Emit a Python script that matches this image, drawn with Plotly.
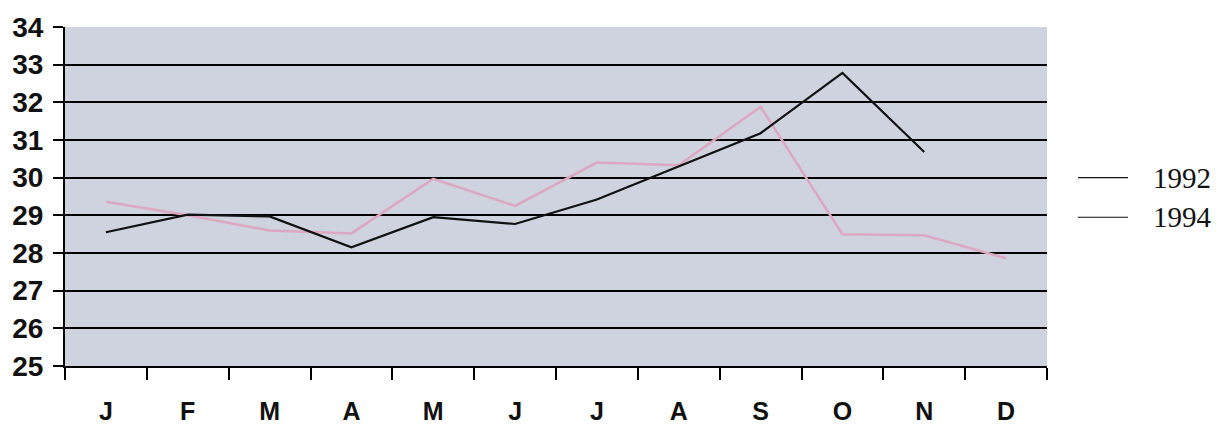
import plotly.graph_objects as go

months = ["Jan", "Feb", "Mar", "Apr", "May", "Jun", "Jul", "Aug", "Sep", "Oct", "Nov", "Dec"]
month_labels = ["J", "F", "M", "A", "M", "J", "J", "A", "S", "O", "N", "D"]
y1992 = [28.55, 29.02, 28.97, 28.15, 28.95, 28.77, 29.42, 30.3, 31.18, 32.78, 30.68, None]
y1994 = [29.36, 29.0, 28.6, 28.52, 29.97, 29.25, 30.4, 30.33, 31.88, 28.5, 28.47, 27.86]
y_ticks = [25, 26, 27, 28, 29, 30, 31, 32, 33, 34]
legend_names = ["1992", "1994"]

fig = go.Figure()
fig.add_trace(go.Scatter(x=months, y=y1994, mode="lines", name="1994",
                         line=dict(color="#dca7c0", width=2.5), showlegend=False))
fig.add_trace(go.Scatter(x=months, y=y1992, mode="lines", name="1992",
                         line=dict(color="#111111", width=2.2), showlegend=False, connectgaps=False))

# legend drawn like the reference: thin black line + serif label
W, H = 1220, 437
ml, mr, mt, mb = 65, 173, 22, 64
pw, ph = W - ml - mr, H - mt - mb
legend_rows_px = [178, 219]
for name, ypx in zip(legend_names, legend_rows_px):
    yp = (H - mb - ypx) / ph
    x0 = (1078 - ml) / pw
    x1 = (1128 - ml) / pw
    fig.add_shape(type="line", xref="paper", yref="paper", x0=x0, x1=x1, y0=yp, y1=yp,
                  line=dict(color="#111111", width=1.2))
    fig.add_annotation(xref="paper", yref="paper", x=(1151 - ml) / pw, y=yp, text=name,
                       showarrow=False, xanchor="left", yanchor="middle",
                       font=dict(family="Liberation Serif, Times New Roman", size=29, color="#111111"))

fig.update_layout(
    width=W, height=H,
    margin=dict(l=ml, r=mr, t=mt, b=mb),
    paper_bgcolor="white",
    plot_bgcolor="#cfd2df",
    font=dict(family="Liberation Sans, Arial", color="#111111"),
    showlegend=False,
)
fig.update_xaxes(
    type="category", categoryorder="array", categoryarray=months,
    tickvals=months, ticktext=month_labels, tickson="boundaries",
    ticks="outside", ticklen=12, tickwidth=2, tickcolor="black",
    showline=True, linecolor="black", linewidth=2, showgrid=False,
    tickfont=dict(size=25, family="Liberation Sans, Arial", weight="bold"),
    ticklabelstandoff=22,
    range=[-0.5, 11.5],
)
fig.update_yaxes(
    range=[25, 34], tickvals=y_ticks,
    ticks="outside", ticklen=10, tickwidth=2, tickcolor="black",
    showline=True, linecolor="black", linewidth=2,
    showgrid=True, gridcolor="black", gridwidth=2, zeroline=False,
    tickfont=dict(size=28, family="Liberation Sans, Arial", weight="bold"),
    ticklabelstandoff=4,
)
fig.write_html("out.html")
